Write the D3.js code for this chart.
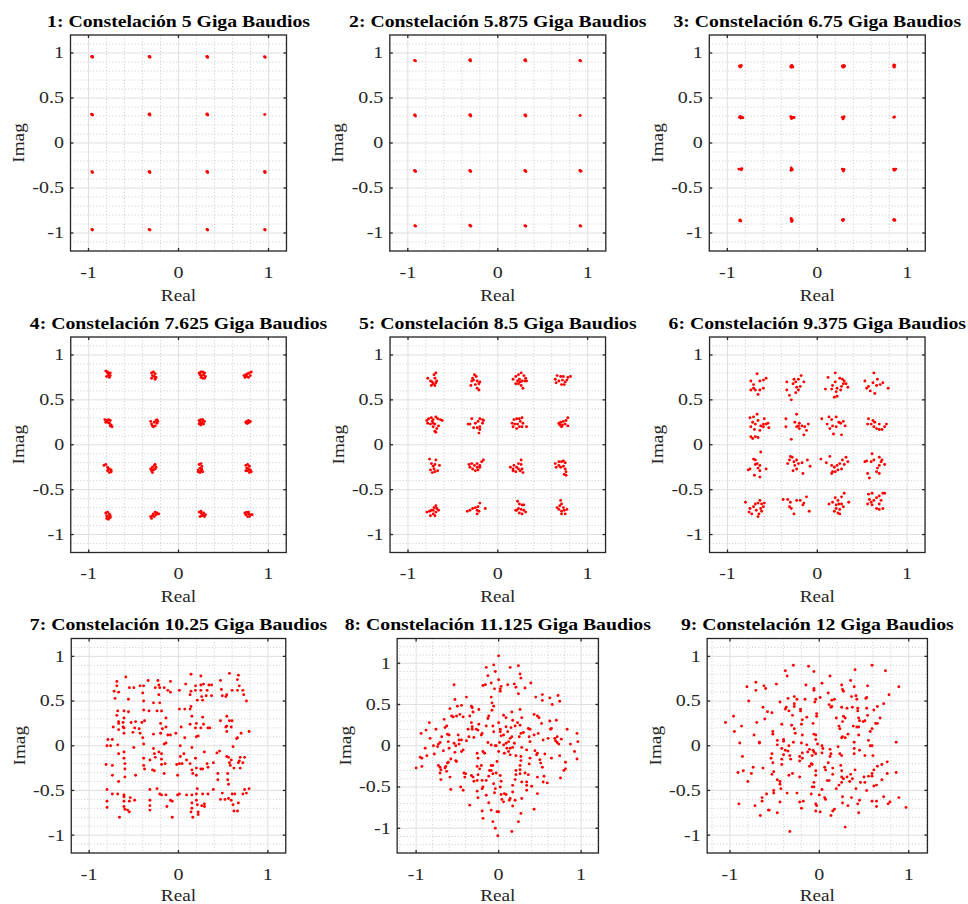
<!DOCTYPE html>
<html>
<head>
<meta charset="utf-8">
<script src="https://cdn.jsdelivr.net/npm/d3@7"></script>
<style>
  body { margin: 0; background: #fff; }
  text { font-family: "Liberation Serif", "Times New Roman", serif; }
</style>
</head>
<body>
<svg id="fig" width="968" height="904"></svg>
<script>
// ---- data ----
const titles = [
  "1: Constelación 5 Giga Baudios",
  "2: Constelación 5.875 Giga Baudios",
  "3: Constelación 6.75 Giga Baudios",
  "4: Constelación 7.625 Giga Baudios",
  "5: Constelación 8.5 Giga Baudios",
  "6: Constelación 9.375 Giga Baudios",
  "7: Constelación 10.25 Giga Baudios",
  "8: Constelación 11.125 Giga Baudios",
  "9: Constelación 12 Giga Baudios"
];
const xLabel = "Real";
const yLabel = "Imag";
const xTicks = [-1, 0, 1];
const yTicks = [-1, -0.5, 0, 0.5, 1];
const xLims = [[-1.2,1.2],[-1.2,1.2],[-1.2,1.2],[-1.2,1.2],[-1.2,1.2],[-1.2,1.2],[-1.2,1.2],[-1.23,1.21],[-1.255,1.21]];
const yLims = [[-1.2,1.2],[-1.2,1.2],[-1.2,1.2],[-1.2,1.2],[-1.2,1.2],[-1.2,1.2],[-1.2,1.2],[-1.3,1.3],[-1.2,1.2]];

const pts1 = [
[-0.965,0.96],[-0.955,0.952],[-0.958,0.962],[-0.327,0.96],[-0.317,0.952],[-0.322,0.962],[0.314,0.96],[0.324,0.951],[0.32,0.962],[0.955,0.96],[0.963,0.952],
[-0.965,0.32],[-0.955,0.31],[-0.96,0.318],[-0.327,0.32],[-0.317,0.31],[-0.32,0.322],[0.315,0.32],[0.325,0.31],[0.32,0.322],[0.958,0.316],
[-0.963,-0.318],[-0.955,-0.327],[-0.327,-0.318],[-0.317,-0.327],[-0.322,-0.32],[0.315,-0.318],[0.325,-0.327],[0.32,-0.32],[0.955,-0.318],[0.963,-0.327],[0.96,-0.32],
[-0.962,-0.96],[-0.955,-0.966],[-0.327,-0.96],[-0.317,-0.966],[0.317,-0.96],[0.324,-0.966],[0.957,-0.96],[0.963,-0.966]
];
const pts2 = [
[-0.925,0.918],[-0.915,0.912],[-0.312,0.92],[-0.302,0.912],[-0.306,0.925],[0.30,0.92],[0.312,0.912],[0.306,0.925],[0.912,0.918],[0.92,0.912],
[-0.925,0.31],[-0.915,0.30],[-0.92,0.312],[-0.312,0.31],[-0.30,0.30],[-0.306,0.314],[0.30,0.31],[0.312,0.30],[0.306,0.312],[0.915,0.305],
[-0.925,-0.306],[-0.913,-0.316],[-0.92,-0.31],[-0.312,-0.306],[-0.30,-0.316],[-0.306,-0.31],[0.30,-0.306],[0.312,-0.316],[0.306,-0.31],[0.912,-0.305],[0.924,-0.314],[0.918,-0.31],
[-0.922,-0.918],[-0.914,-0.924],[-0.31,-0.914],[-0.30,-0.924],[-0.306,-0.92],[0.302,-0.918],[0.31,-0.924],[0.914,-0.918],[0.92,-0.924]
];
const pts3 = [
[-0.865,0.855],[-0.85,0.85],[-0.845,0.862],[-0.858,0.845],[-0.295,0.85],[-0.28,0.855],[-0.272,0.845],[-0.285,0.862],[-0.29,0.842],
[0.278,0.855],[0.29,0.848],[0.297,0.862],[0.285,0.843],[0.302,0.852],[0.848,0.855],[0.855,0.843],[0.86,0.862],[0.852,0.868],
[-0.865,0.285],[-0.85,0.278],[-0.84,0.283],[-0.855,0.295],[-0.828,0.28],[-0.295,0.292],[-0.28,0.278],[-0.268,0.285],[-0.287,0.272],[-0.258,0.283],
[0.278,0.285],[0.292,0.278],[0.285,0.268],[0.297,0.292],[0.85,0.285],[0.857,0.29],
[-0.872,-0.29],[-0.855,-0.29],[-0.845,-0.298],[-0.838,-0.285],[-0.29,-0.278],[-0.283,-0.29],[-0.292,-0.302],[-0.278,-0.298],
[0.278,-0.29],[0.287,-0.30],[0.29,-0.312],[0.297,-0.295],[0.848,-0.29],[0.86,-0.298],[0.872,-0.29],[0.855,-0.302],
[-0.858,-0.855],[-0.85,-0.867],[-0.862,-0.862],[-0.29,-0.85],[-0.278,-0.86],[-0.285,-0.872],[-0.29,-0.838],
[0.278,-0.855],[0.292,-0.85],[0.285,-0.862],[0.848,-0.855],[0.862,-0.86],[0.855,-0.85]
];
const pts4 = [
[-0.81,0.82],[-0.79,0.80],[-0.78,0.78],[-0.76,0.80],[-0.80,0.76],[-0.77,0.75],[-0.76,0.77],[-0.79,0.81],
[-0.30,0.80],[-0.28,0.81],[-0.26,0.79],[-0.29,0.77],[-0.27,0.76],[-0.25,0.75],[-0.30,0.74],[-0.26,0.73],
[0.23,0.80],[0.25,0.81],[0.27,0.81],[0.29,0.80],[0.24,0.78],[0.26,0.77],[0.28,0.78],[0.30,0.76],[0.25,0.75],[0.27,0.74],[0.29,0.74],
[0.73,0.77],[0.75,0.78],[0.77,0.79],[0.79,0.80],[0.81,0.81],[0.74,0.75],[0.76,0.76],[0.78,0.75],[0.80,0.77],
[-0.82,0.28],[-0.80,0.27],[-0.78,0.28],[-0.76,0.27],[-0.81,0.25],[-0.79,0.25],[-0.77,0.24],[-0.75,0.22],[-0.74,0.20],[-0.76,0.21],
[-0.31,0.26],[-0.30,0.23],[-0.29,0.21],[-0.27,0.25],[-0.25,0.27],[-0.24,0.28],[-0.26,0.21],[-0.24,0.24],[-0.28,0.20],[-0.23,0.26],
[0.23,0.27],[0.25,0.28],[0.27,0.28],[0.29,0.26],[0.24,0.25],[0.26,0.24],[0.28,0.23],[0.23,0.23],[0.25,0.22],[0.27,0.26],
[0.75,0.25],[0.76,0.26],[0.78,0.27],[0.80,0.26],[0.77,0.24],[0.79,0.25],[0.76,0.24],
[-0.83,-0.23],[-0.81,-0.22],[-0.79,-0.25],[-0.77,-0.27],[-0.75,-0.28],[-0.79,-0.29],[-0.77,-0.31],[-0.75,-0.30],[-0.78,-0.27],
[-0.31,-0.27],[-0.29,-0.25],[-0.27,-0.23],[-0.26,-0.22],[-0.30,-0.29],[-0.28,-0.28],[-0.26,-0.27],[-0.29,-0.31],[-0.25,-0.25],
[0.23,-0.22],[0.25,-0.21],[0.26,-0.24],[0.24,-0.26],[0.22,-0.28],[0.25,-0.29],[0.27,-0.30],[0.24,-0.31],[0.22,-0.30],[0.26,-0.27],
[0.75,-0.23],[0.77,-0.22],[0.79,-0.24],[0.76,-0.26],[0.78,-0.27],[0.80,-0.28],[0.77,-0.29],[0.79,-0.31],[0.81,-0.30],[0.75,-0.29],
[-0.81,-0.76],[-0.79,-0.75],[-0.77,-0.77],[-0.80,-0.79],[-0.78,-0.80],[-0.76,-0.79],[-0.80,-0.82],[-0.78,-0.83],[-0.76,-0.81],
[-0.30,-0.82],[-0.29,-0.79],[-0.28,-0.77],[-0.26,-0.75],[-0.24,-0.76],[-0.22,-0.77],[-0.27,-0.80],[-0.25,-0.78],[-0.31,-0.80],
[0.23,-0.75],[0.25,-0.76],[0.27,-0.78],[0.29,-0.80],[0.24,-0.80],[0.26,-0.79],[0.28,-0.76],[0.30,-0.78],[0.25,-0.74],
[0.74,-0.76],[0.76,-0.75],[0.78,-0.77],[0.80,-0.78],[0.82,-0.78],[0.75,-0.78],[0.77,-0.80],[0.79,-0.80],[0.78,-0.75]
];
const pts5 = [
[-0.78,0.74],[-0.75,0.71],[-0.73,0.70],[-0.71,0.78],[-0.69,0.80],[-0.70,0.74],[-0.72,0.68],[-0.68,0.71],[-0.70,0.66],[-0.74,0.66],[-0.69,0.69],
[-0.26,0.78],[-0.24,0.76],[-0.27,0.72],[-0.29,0.71],[-0.23,0.71],[-0.21,0.68],[-0.30,0.66],[-0.25,0.67],[-0.23,0.63],[-0.21,0.61],[-0.28,0.74],[-0.20,0.70],
[0.17,0.73],[0.20,0.76],[0.23,0.78],[0.26,0.80],[0.29,0.77],[0.31,0.74],[0.22,0.71],[0.24,0.73],[0.27,0.71],[0.30,0.71],[0.20,0.68],[0.23,0.68],[0.26,0.66],[0.28,0.63],[0.25,0.70],[0.32,0.71],
[0.64,0.73],[0.66,0.77],[0.70,0.76],[0.73,0.76],[0.78,0.75],[0.81,0.76],[0.68,0.71],[0.72,0.72],[0.75,0.70],[0.71,0.67],[0.74,0.67],[0.65,0.69],[0.77,0.72],
[-0.79,0.27],[-0.77,0.29],[-0.74,0.30],[-0.72,0.28],[-0.69,0.31],[-0.67,0.29],[-0.64,0.28],[-0.62,0.27],[-0.78,0.24],[-0.75,0.23],[-0.72,0.24],[-0.70,0.23],[-0.72,0.20],[-0.68,0.18],[-0.70,0.15],[-0.69,0.14],[-0.66,0.21],[-0.73,0.26],
[-0.29,0.29],[-0.33,0.23],[-0.31,0.23],[-0.25,0.24],[-0.22,0.26],[-0.20,0.29],[-0.17,0.28],[-0.17,0.24],[-0.20,0.20],[-0.23,0.19],[-0.20,0.17],[-0.21,0.13],[-0.27,0.19],[-0.16,0.27],
[0.16,0.24],[0.18,0.28],[0.21,0.29],[0.24,0.29],[0.27,0.30],[0.25,0.26],[0.22,0.23],[0.19,0.23],[0.17,0.20],[0.24,0.20],[0.27,0.20],[0.32,0.20],[0.21,0.18],[0.28,0.24],
[0.68,0.24],[0.70,0.25],[0.73,0.26],[0.76,0.27],[0.78,0.30],[0.69,0.22],[0.72,0.22],[0.75,0.23],[0.78,0.21],[0.71,0.20],
[-0.76,-0.16],[-0.74,-0.21],[-0.72,-0.24],[-0.71,-0.27],[-0.75,-0.28],[-0.70,-0.30],[-0.67,-0.29],[-0.65,-0.23],[-0.69,-0.17],[-0.73,-0.31],[-0.70,-0.22],
[-0.32,-0.22],[-0.29,-0.21],[-0.26,-0.23],[-0.23,-0.25],[-0.20,-0.23],[-0.18,-0.19],[-0.16,-0.17],[-0.31,-0.25],[-0.28,-0.27],[-0.25,-0.29],[-0.22,-0.28],[-0.20,-0.25],[-0.23,-0.21],
[0.14,-0.25],[0.17,-0.27],[0.18,-0.23],[0.21,-0.25],[0.23,-0.21],[0.26,-0.17],[0.26,-0.22],[0.27,-0.27],[0.25,-0.29],[0.20,-0.30],[0.28,-0.31],[0.17,-0.29],[0.23,-0.27],
[0.64,-0.21],[0.68,-0.19],[0.71,-0.19],[0.73,-0.18],[0.75,-0.20],[0.65,-0.25],[0.70,-0.25],[0.73,-0.24],[0.75,-0.27],[0.76,-0.30],[0.74,-0.33],[0.76,-0.34],[0.68,-0.23],
[-0.79,-0.75],[-0.76,-0.74],[-0.74,-0.73],[-0.71,-0.70],[-0.69,-0.68],[-0.68,-0.71],[-0.72,-0.77],[-0.75,-0.79],[-0.69,-0.75],[-0.66,-0.73],[-0.70,-0.79],[-0.72,-0.73],
[-0.34,-0.74],[-0.31,-0.73],[-0.28,-0.71],[-0.25,-0.70],[-0.22,-0.69],[-0.20,-0.65],[-0.21,-0.74],[-0.23,-0.77],[-0.14,-0.71],[-0.23,-0.73],
[0.22,-0.63],[0.24,-0.66],[0.27,-0.67],[0.29,-0.67],[0.20,-0.73],[0.23,-0.71],[0.26,-0.72],[0.29,-0.73],[0.31,-0.75],[0.27,-0.77],[0.24,-0.76],[0.21,-0.73],
[0.70,-0.62],[0.71,-0.66],[0.69,-0.68],[0.66,-0.70],[0.68,-0.72],[0.71,-0.74],[0.74,-0.73],[0.77,-0.72],[0.75,-0.77],[0.71,-0.77],[0.73,-0.70]
];
const pts6 = [
[-0.74,0.71],[-0.67,0.79],[-0.64,0.71],[-0.60,0.72],[-0.57,0.74],[-0.71,0.63],[-0.74,0.61],[-0.69,0.61],[-0.66,0.56],[-0.60,0.63],[-0.71,0.67],[-0.64,0.61],
[-0.34,0.70],[-0.26,0.73],[-0.24,0.70],[-0.21,0.73],[-0.18,0.77],[-0.15,0.70],[-0.19,0.65],[-0.21,0.61],[-0.24,0.58],[-0.34,0.61],[-0.31,0.55],[-0.29,0.50],[-0.23,0.64],[-0.27,0.68],
[0.12,0.75],[0.20,0.80],[0.25,0.74],[0.28,0.73],[0.30,0.71],[0.32,0.68],[0.20,0.70],[0.17,0.66],[0.09,0.62],[0.16,0.62],[0.22,0.63],[0.27,0.65],[0.34,0.64],[0.21,0.59],[0.19,0.53],[0.22,0.54],[0.26,0.61],[0.29,0.68],
[0.53,0.71],[0.63,0.80],[0.67,0.73],[0.73,0.69],[0.79,0.63],[0.55,0.63],[0.59,0.60],[0.64,0.57],[0.66,0.66],[0.70,0.67],[0.62,0.69],[0.57,0.65],
[-0.75,0.30],[-0.71,0.31],[-0.67,0.34],[-0.72,0.25],[-0.69,0.23],[-0.66,0.27],[-0.63,0.21],[-0.60,0.23],[-0.59,0.29],[-0.57,0.23],[-0.54,0.19],[-0.74,0.09],[-0.72,0.07],[-0.69,0.09],[-0.66,0.08],[-0.74,0.20],[-0.70,0.17],[-0.64,0.16],[-0.60,0.20],[-0.55,0.24],
[-0.35,0.29],[-0.23,0.34],[-0.25,0.25],[-0.21,0.21],[-0.20,0.24],[-0.17,0.21],[-0.14,0.20],[-0.10,0.23],[-0.12,0.16],[-0.15,0.11],[-0.35,0.20],[-0.29,0.06],[-0.20,0.18],[-0.23,0.20],
[0.05,0.29],[0.13,0.31],[0.16,0.28],[0.21,0.31],[0.24,0.25],[0.26,0.24],[0.29,0.26],[0.31,0.21],[0.21,0.20],[0.17,0.21],[0.14,0.18],[0.18,0.12],[0.27,0.11],[0.11,0.23],
[0.57,0.29],[0.62,0.27],[0.64,0.25],[0.56,0.23],[0.60,0.23],[0.63,0.20],[0.66,0.18],[0.69,0.17],[0.72,0.17],[0.75,0.20],[0.77,0.23],[0.69,0.23],
[-0.63,-0.08],[-0.71,-0.16],[-0.69,-0.17],[-0.67,-0.21],[-0.64,-0.23],[-0.77,-0.28],[-0.75,-0.27],[-0.66,-0.26],[-0.64,-0.29],[-0.70,-0.34],[-0.64,-0.36],[-0.57,-0.27],[-0.69,-0.22],
[-0.30,-0.13],[-0.28,-0.14],[-0.31,-0.17],[-0.26,-0.19],[-0.23,-0.17],[-0.33,-0.21],[-0.25,-0.23],[-0.23,-0.27],[-0.27,-0.29],[-0.17,-0.20],[-0.16,-0.32],[-0.11,-0.17],[-0.08,-0.24],[-0.21,-0.21],
[0.04,-0.16],[0.14,-0.13],[0.10,-0.20],[0.16,-0.23],[0.19,-0.25],[0.22,-0.23],[0.25,-0.21],[0.28,-0.17],[0.32,-0.14],[0.34,-0.19],[0.17,-0.30],[0.16,-0.32],[0.20,-0.30],[0.23,-0.28],[0.27,-0.27],[0.30,-0.22],
[0.61,-0.10],[0.53,-0.19],[0.55,-0.18],[0.60,-0.19],[0.63,-0.17],[0.69,-0.14],[0.72,-0.17],[0.75,-0.22],[0.69,-0.23],[0.67,-0.26],[0.66,-0.30],[0.69,-0.32],[0.56,-0.32],[0.58,-0.37],[0.71,-0.19],
[-0.80,-0.64],[-0.75,-0.71],[-0.76,-0.75],[-0.71,-0.69],[-0.69,-0.66],[-0.66,-0.65],[-0.64,-0.62],[-0.62,-0.66],[-0.60,-0.69],[-0.63,-0.71],[-0.59,-0.65],[-0.65,-0.77],[-0.68,-0.73],[-0.62,-0.74],[-0.73,-0.77],[-0.66,-0.80],
[-0.38,-0.61],[-0.33,-0.61],[-0.30,-0.64],[-0.31,-0.69],[-0.26,-0.77],[-0.23,-0.62],[-0.19,-0.62],[-0.15,-0.65],[-0.12,-0.58],[-0.16,-0.67],[-0.09,-0.74],[-0.29,-0.71],
[0.13,-0.66],[0.17,-0.64],[0.20,-0.59],[0.23,-0.62],[0.27,-0.58],[0.30,-0.54],[0.35,-0.64],[0.21,-0.67],[0.24,-0.66],[0.27,-0.66],[0.21,-0.71],[0.25,-0.72],[0.23,-0.76],[0.25,-0.77],[0.19,-0.74],[0.29,-0.69],
[0.57,-0.55],[0.61,-0.54],[0.58,-0.61],[0.60,-0.64],[0.63,-0.62],[0.66,-0.59],[0.69,-0.57],[0.73,-0.54],[0.75,-0.54],[0.71,-0.62],[0.69,-0.66],[0.66,-0.71],[0.61,-0.67],[0.73,-0.71],[0.69,-0.72],[0.56,-0.66]
];
const pts7 = [
[-0.59,0.77],[-0.69,0.72],[-0.69,0.67],[-0.72,0.61],[-0.67,0.60],[-0.71,0.53],[-0.55,0.65],[-0.56,0.52],[-0.50,0.65],[-0.43,0.67],[-0.39,0.67],[-0.40,0.59],[-0.39,0.50],[-0.34,0.73],[-0.23,0.73],[-0.22,0.68],[-0.21,0.65],[-0.26,0.65],[-0.16,0.65],[-0.12,0.62],[-0.09,0.72],[-0.09,0.60],[-0.22,0.57],[-0.28,0.48],[-0.21,0.48],
[0.14,0.80],[0.08,0.69],[0.01,0.62],[0.14,0.61],[0.19,0.67],[0.25,0.78],[0.25,0.68],[0.28,0.69],[0.34,0.68],[0.37,0.68],[0.19,0.62],[0.25,0.62],[0.32,0.62],[0.26,0.55],[0.21,0.51],[0.27,0.51],[0.31,0.56],[0.37,0.56],[0.47,0.73],[0.57,0.81],[0.67,0.79],[0.66,0.74],[0.48,0.63],[0.53,0.55],[0.54,0.57],[0.60,0.62],[0.66,0.62],[0.72,0.62],[0.76,0.50],[0.49,0.56],[0.13,0.57],[0.68,0.67],[0.73,0.57],
[-0.68,0.39],[-0.61,0.39],[-0.56,0.38],[-0.39,0.40],[-0.33,0.39],[-0.69,0.34],[-0.61,0.31],[-0.67,0.27],[-0.62,0.26],[-0.53,0.26],[-0.48,0.27],[-0.38,0.28],[-0.73,0.21],[-0.62,0.21],[-0.61,0.20],[-0.67,0.18],[-0.67,0.25],[-0.49,0.20],[-0.51,0.15],[-0.44,0.19],[-0.41,0.26],[-0.61,0.14],[-0.43,0.14],[-0.40,0.09],[-0.28,0.13],[-0.18,0.19],[-0.20,0.25],[-0.14,0.21],[-0.24,0.39],[-0.19,0.39],[-0.14,0.31],[-0.20,0.14],[-0.12,0.12],[-0.09,0.12],[-0.16,0.02],[-0.03,0.14],
[0.03,0.21],[0.07,0.09],[0.01,0.41],[0.07,0.41],[0.14,0.44],[0.13,0.41],[0.15,0.33],[0.13,0.24],[0.20,0.25],[0.19,0.20],[0.25,0.20],[0.27,0.32],[0.28,0.24],[0.33,0.20],[0.35,0.20],[0.20,0.10],[0.22,0.11],[0.47,0.28],[0.54,0.33],[0.57,0.28],[0.60,0.28],[0.54,0.22],[0.53,0.21],[0.59,0.21],[0.54,0.16],[0.66,0.09],[0.65,0.08],[0.70,0.14],[0.79,0.16],
[-0.80,0.00],[-0.76,0.00],[-0.79,0.07],[-0.74,0.07],[-0.68,0.01],[-0.50,-0.02],[-0.39,0.02],[-0.14,0.03],[0.02,0.00],[0.15,-0.02],[0.61,-0.01],
[-0.81,-0.21],[-0.74,-0.22],[-0.67,-0.09],[-0.61,-0.07],[-0.61,-0.14],[-0.60,-0.20],[-0.60,-0.26],[-0.60,-0.35],[-0.74,-0.33],[-0.67,-0.40],[-0.48,-0.33],[-0.39,-0.14],[-0.39,-0.22],[-0.38,-0.26],[-0.28,-0.03],[-0.27,-0.09],[-0.26,-0.13],[-0.29,-0.27],[-0.27,-0.28],[-0.22,-0.07],[-0.19,-0.09],[-0.19,-0.15],[-0.19,-0.21],[-0.15,-0.20],[-0.32,-0.16],[-0.16,-0.31],
[-0.02,-0.21],[-0.01,-0.33],[0.01,-0.20],[0.04,-0.20],[0.02,-0.12],[0.06,-0.09],[0.09,-0.16],[0.13,-0.20],[0.15,-0.27],[0.16,-0.31],[0.19,-0.14],[0.20,-0.25],[0.20,-0.33],[0.25,-0.26],[0.27,-0.26],[0.32,-0.20],[0.33,-0.24],[0.39,-0.19],[0.43,-0.08],[0.46,-0.06],[0.44,-0.31],[0.44,-0.38],[0.54,-0.12],[0.56,-0.13],[0.55,-0.31],[0.55,-0.38],[0.56,-0.43],[0.58,-0.22],[0.57,-0.19],[0.59,-0.16],[0.62,-0.25],[0.67,-0.19],[0.68,-0.17],[0.69,-0.25],[0.72,-0.19],[0.74,-0.13],[0.69,-0.13],[0.29,-0.07],
[-0.80,-0.49],[-0.80,-0.62],[-0.80,-0.69],[-0.74,-0.54],[-0.68,-0.54],[-0.61,-0.55],[-0.61,-0.57],[-0.61,-0.62],[-0.61,-0.68],[-0.60,-0.71],[-0.57,-0.72],[-0.54,-0.58],[-0.55,-0.62],[-0.55,-0.74],[-0.49,-0.61],[-0.66,-0.80],
[-0.32,-0.49],[-0.32,-0.61],[-0.32,-0.72],[-0.24,-0.48],[-0.21,-0.54],[-0.19,-0.55],[-0.14,-0.55],[-0.09,-0.61],[-0.07,-0.62],[-0.13,-0.68],[-0.07,-0.80],[-0.01,-0.55],[0.01,-0.54],[0.09,-0.55],[0.15,-0.55],[0.20,-0.54],[0.21,-0.48],[0.20,-0.61],[0.21,-0.66],[0.22,-0.74],[0.22,-0.77],[0.15,-0.64],[0.14,-0.74],[0.16,-0.80],[0.15,-0.70],
[0.27,-0.54],[0.33,-0.54],[0.26,-0.67],[0.29,-0.65],[0.39,-0.49],[0.49,-0.53],[0.47,-0.60],[0.52,-0.60],[0.56,-0.59],[0.60,-0.54],[0.63,-0.54],[0.61,-0.66],[0.59,-0.61],[0.62,-0.73],[0.66,-0.73],[0.67,-0.64],[0.72,-0.54],[0.76,-0.53],[0.74,-0.49],[0.79,-0.48],[0.29,-0.68],[-0.32,-0.67]
];
const pts8 = [
[0.00,1.09],[-0.06,0.98],[-0.15,0.95],[0.14,0.95],[0.24,0.97],[-0.04,0.90],[-0.13,0.85],[0.26,0.87],[0.27,0.82],[0.00,0.80],[-0.09,0.76],[-0.16,0.74],[-0.19,0.73],[0.03,0.72],[0.02,0.69],[0.02,0.66],[-0.05,0.69],[0.11,0.74],[0.19,0.75],[0.21,0.71],[0.39,0.76],[-0.54,0.74],[0.32,0.70],[0.24,0.63],
[0.45,0.59],[0.53,0.62],[0.62,0.58],[0.72,0.61],[0.74,0.54],[0.53,0.55],[0.65,0.50],[-0.39,0.59],[-0.53,0.56],[-0.50,0.48],[-0.45,0.49],[-0.33,0.48],[-0.32,0.46],[-0.59,0.45],[-0.24,0.44],[-0.09,0.59],[-0.08,0.52],[-0.06,0.48],[-0.08,0.43],[0.26,0.44],[0.28,0.34],[0.16,0.41],[0.06,0.37],[0.09,0.34],[0.00,0.28],[-0.12,0.36],[-0.13,0.33],
[-0.57,0.36],[-0.55,0.35],[-0.51,0.36],[-0.47,0.38],[-0.43,0.35],[-0.35,0.36],[-0.31,0.41],[-0.33,0.28],[-0.37,0.20],[-0.27,0.20],[-0.25,0.19],[-0.84,0.28],[-0.88,0.19],[-0.94,0.15],[-0.83,0.09],[-0.76,0.20],[-0.66,0.32],[-0.63,0.24],[-0.65,0.22],[-0.62,0.14],[-0.60,0.13],[-0.69,0.11],
[-0.74,-0.01],[-0.79,0.00],[-0.89,-0.03],[-0.95,-0.14],[-0.93,-0.15],[-0.87,-0.12],[-0.78,-0.10],[-0.93,-0.25],[-1.00,-0.27],[-0.73,0.02],[-0.71,0.04],[-0.67,-0.06],[-0.61,0.05],[-0.60,-0.03],[-0.54,0.03],[-0.53,-0.08],[-0.49,0.13],[-0.48,0.07],[-0.52,0.00],[-0.48,0.02],[-0.43,-0.05],[-0.45,0.07],[-0.36,0.11],[-0.30,0.10],[-0.39,0.06],[-0.32,0.23],[-0.32,0.20],
[-0.21,0.13],[-0.15,0.24],[-0.07,0.24],[-0.06,0.17],[-0.13,0.04],[-0.09,0.01],[-0.04,0.00],[-0.03,0.00],[0.02,0.17],[0.03,0.12],[0.06,0.13],[0.02,0.20],[0.09,0.23],[0.11,0.17],[0.15,0.22],[0.20,0.24],[0.23,0.28],[0.26,0.25],[0.17,0.31],[0.16,0.11],[0.12,0.05],[0.19,0.03],[0.06,0.01],[0.10,-0.03],[0.14,-0.03],[0.17,-0.02],[0.28,-0.02],[0.25,0.11],[0.30,0.16],[0.36,0.21],[0.38,0.20],[0.37,0.11],[0.43,0.13],
[0.43,0.38],[0.47,0.36],[0.49,0.34],[0.52,0.27],[0.62,0.30],[0.70,0.31],[0.64,0.21],[0.63,0.20],[0.60,0.09],[0.68,0.09],[0.69,0.06],[0.71,0.11],[0.71,0.04],[0.73,0.02],[0.76,0.08],[0.83,0.20],[0.87,0.02],[0.95,0.15],[0.96,0.05],[0.92,-0.07],[0.95,-0.16],
[0.74,-0.12],[0.81,-0.20],[0.81,-0.28],[0.79,-0.30],[0.75,-0.39],[0.64,-0.15],[0.56,-0.10],[0.46,-0.11],[0.47,-0.09],[0.50,-0.17],[0.51,-0.21],[0.53,-0.26],[0.55,-0.37],[0.59,-0.45],[0.54,-0.44],[0.47,-0.38],[0.47,-0.58],[0.43,-0.77],[0.37,-0.22],[0.36,-0.35],[0.34,-0.44],[0.34,-0.48],[0.40,-0.49],[0.34,-0.54],
[0.27,-0.13],[0.27,-0.18],[0.26,-0.24],[0.26,-0.29],[0.26,-0.34],[0.28,-0.44],[0.28,-0.64],[0.27,-0.82],[0.24,-0.92],[0.21,-0.30],[0.21,-0.35],[0.20,-0.41],[0.20,-0.66],[0.17,-0.48],[0.17,-0.56],[0.14,-0.64],[0.13,-0.66],[0.17,-0.73],[0.06,-0.68],[0.04,-0.65],[0.03,-0.59],[0.02,-0.50],[0.03,-0.43],[0.02,-0.36],[0.09,-0.59],[0.07,-0.58],
[-0.03,-0.33],[-0.02,-0.19],[0.07,-0.09],[0.12,-0.07],[0.14,-0.11],[-0.09,-0.24],[-0.11,-0.30],[-0.09,-0.30],[-0.07,-0.34],[-0.12,-0.37],[-0.21,-0.24],[-0.23,-0.28],[-0.25,-0.35],[-0.20,-0.42],[-0.20,-0.52],[-0.19,-0.50],[-0.26,-0.55],[-0.25,-0.63],[-0.15,-0.60],[-0.12,-0.69],[-0.06,-0.46],[-0.05,-0.57],[-0.04,-0.52],
[-0.02,-0.80],[0.00,-0.80],[-0.09,-0.78],[-0.20,-0.79],[-0.19,-0.88],[-0.07,-0.92],[-0.04,-1.00],[-0.01,-1.09],[0.16,-1.04],[-0.35,-0.72],[-0.26,-0.42],[-0.15,-0.42],[-0.17,-0.09],[-0.07,-0.24],
[-0.40,-0.34],[-0.42,-0.33],[-0.41,-0.38],[-0.33,-0.36],[-0.31,-0.38],[-0.25,-0.15],[-0.26,-0.25],[-0.30,-0.43],[-0.46,-0.50],[-0.43,-0.54],[-0.58,-0.53],[-0.52,-0.18],[-0.51,-0.19],[-0.58,-0.16],[-0.59,-0.38],[-0.63,-0.31],[-0.65,-0.27],[-0.64,-0.25],[-0.62,-0.21],[-0.61,-0.20],[-0.70,-0.29],[-0.70,-0.41],[-0.73,-0.24],[-0.71,-0.26],[-0.71,-0.33],
[-0.45,-0.07],[-0.26,-0.09],[-0.19,-0.07],[-0.24,0.26],[-0.20,0.15],[0.01,0.04],[0.14,0.09],[0.21,-0.12],[0.34,-0.05],[0.38,0.05],[0.48,0.15],[0.54,0.07],[0.44,-0.06],[0.38,-0.15],[0.32,-0.33],[0.27,0.15],[0.09,0.03],[0.00,-0.07]
];
const pts9 = [
[-0.29,0.90],[-0.12,0.89],[-0.06,0.83],[-0.38,0.84],[-0.36,0.78],[0.12,0.78],[0.59,0.90],[0.40,0.85],[0.74,0.84],[0.35,0.73],[0.89,0.66],[0.78,0.57],[0.72,0.47],[0.65,0.44],[0.61,0.40],[0.68,0.31],[0.65,0.25],[0.63,0.25],[0.59,0.19],[0.57,0.16],[0.55,0.06],[0.57,0.00],[0.59,0.00],[0.86,0.04],
[0.54,0.67],[0.54,0.34],[0.51,0.28],[0.45,0.28],[0.49,0.27],[0.53,0.42],[0.52,0.53],[0.53,0.54],[0.42,0.52],[0.36,0.55],[0.39,0.66],[0.25,0.68],[0.26,0.63],[0.27,0.61],[0.41,0.56],[0.43,0.42],[0.43,0.39],[0.37,0.43],[0.31,0.42],[0.25,0.43],[0.29,0.31],[0.27,0.33],[0.19,0.31],[0.26,0.27],[0.22,0.22],[0.23,0.19],[0.38,0.22],[0.42,0.21],[0.44,0.31],[0.44,0.21],[0.26,0.10],[0.29,0.09],[0.25,0.09],[0.32,0.13],
[0.11,0.46],[0.14,0.51],[0.17,0.52],[0.14,0.44],[0.10,0.59],[0.01,0.54],[-0.04,0.52],[-0.06,0.62],[-0.06,0.64],[0.03,0.70],[0.13,0.43],[-0.03,0.36],[-0.03,0.33],[-0.07,0.25],[-0.05,0.49],[-0.15,0.68],[-0.16,0.52],[-0.25,0.52],[-0.28,0.55],[-0.28,0.47],[-0.28,0.44],[-0.21,0.41],[-0.21,0.39],[-0.14,0.32],[-0.19,0.29],[-0.20,0.24],
[-0.35,0.53],[-0.37,0.43],[-0.38,0.41],[-0.34,0.39],[-0.30,0.34],[-0.28,0.19],[-0.31,0.23],[-0.44,0.49],[-0.48,0.69],[-0.53,0.37],[-0.58,0.38],[-0.63,0.43],[-0.61,0.30],[-0.60,0.64],[-0.62,0.67],[-0.71,0.71],[-0.71,0.62],[-0.81,0.66],[-0.79,0.50],[-0.96,0.33],[-1.05,0.26],[-0.95,0.16],[-0.87,0.22],[-0.89,0.03],[-0.73,0.12],[-0.70,0.26],[-0.67,0.04],[-0.67,0.03],
[-0.52,0.16],[-0.52,0.13],[-0.42,0.24],[-0.40,0.07],[-0.40,0.05],[-0.29,0.04],[-0.34,0.00],[-0.47,0.06],[-0.47,0.01],[-0.42,-0.03],[-0.38,-0.05],[-0.35,-0.06],[-0.27,0.14],[-0.19,0.12],[-0.20,0.03],[-0.14,0.01],[-0.11,-0.04],[-0.13,-0.07],[-0.06,0.13],[-0.04,0.12],[-0.04,0.07],[-0.02,0.02],[-0.07,-0.05],[-0.06,-0.07],[-0.04,-0.09],[-0.08,-0.11],[-0.09,-0.20],[-0.11,-0.23],[-0.08,-0.21],[-0.04,-0.28],[-0.04,-0.33],
[0.03,0.00],[0.04,-0.03],[0.12,-0.04],[0.13,-0.09],[0.12,-0.12],[0.10,-0.19],[0.03,-0.08],[0.21,-0.01],[0.23,-0.09],[0.25,-0.11],[0.24,-0.22],[0.39,-0.09],[0.45,-0.05],[0.51,-0.11],[0.60,-0.11],[0.65,-0.23],[0.70,-0.21],[0.76,-0.18],[0.76,-0.31],[0.86,-0.30],[0.70,-0.38],[0.64,-0.44],[0.61,-0.45],[0.59,-0.34],[0.59,-0.31],[0.61,-0.27],[0.55,-0.34],[0.50,-0.35],[0.51,-0.41],[0.46,-0.41],[0.53,-0.50],
[0.40,-0.27],[0.35,-0.32],[0.37,-0.37],[0.31,-0.35],[0.34,-0.40],[0.27,-0.37],[0.25,-0.35],[0.25,-0.41],[0.22,-0.44],[0.19,-0.48],[0.25,-0.28],[0.15,-0.25],[0.15,-0.32],[0.07,-0.27],[0.11,-0.39],[0.09,-0.39],[0.41,-0.48],[0.36,-0.58],[0.26,-0.57],[0.26,-0.64],[0.32,-0.67],[0.45,-0.61],[0.43,-0.65],[0.44,-0.75],[0.59,-0.62],[0.64,-0.62],[0.64,-0.68],[0.72,-0.57],[0.77,-0.65],[0.79,-0.63],[0.89,-0.58],[0.97,-0.69],[0.29,-0.91],
[0.17,-0.71],[0.13,-0.78],[0.15,-0.73],[0.01,-0.74],[-0.04,-0.65],[-0.03,-0.67],[-0.04,-0.73],[0.06,-0.58],[0.07,-0.60],[0.00,-0.55],[0.03,-0.49],[-0.08,-0.46],[-0.06,-0.46],[-0.09,-0.54],[-0.18,-0.62],[-0.22,-0.63],[-0.20,-0.70],[-0.22,-0.35],[-0.25,-0.53],[-0.22,-0.12],[-0.22,-0.17],[-0.19,-0.08],
[-0.33,-0.11],[-0.32,-0.15],[-0.34,-0.33],[-0.42,-0.21],[-0.42,-0.15],[-0.40,-0.10],[-0.44,-0.40],[-0.44,-0.43],[-0.43,-0.48],[-0.47,-0.38],[-0.51,-0.29],[-0.53,-0.32],[-0.52,-0.19],[-0.53,-0.09],[-0.51,-0.50],[-0.51,-0.53],[-0.36,-0.53],[-0.44,-0.63],[-0.47,-0.75],[-0.57,-0.72],[-0.56,-0.72],[-0.59,-0.54],[-0.64,-0.58],[-0.64,-0.62],[-0.66,-0.78],[-0.72,-0.67],
[-0.74,-0.24],[-0.76,-0.31],[-0.85,-0.28],[-0.91,-0.30],[-0.86,-0.12],[-0.80,-0.40],[-0.90,-0.65],[-0.63,-0.25],[-0.33,-0.96],[-0.30,-0.31],[0.06,-0.24],[-0.06,-0.41],[0.39,0.04],[0.44,0.12],[0.39,-0.03],[-0.19,-0.14],[-0.54,-0.14]
];
const panels = [pts1, pts2, pts3, pts4, pts5, pts6, pts7, pts8, pts9];

// ---- layout ----
const COL_CX = [178.5, 497.8, 817.3];
const ROW_TOP = [35, 337, 638.5];
const ROW_H = [216, 215.5, 214.5];
const XLABEL_GAP = [50, 49.5, 47.5];
const INK = "#262626";

const svg = d3.select("#fig");
svg.append("rect").attr("width", 968).attr("height", 904).attr("fill", "#fff");

// MATLAB's text renders wider than Liberation Serif, so stretch it horizontally
function label(g, x, y, str, size, sx, opts = {}) {
  const t = g.append("g")
    .attr("transform", `translate(${x},${y}) rotate(${opts.rot || 0}) scale(${sx},1)`);
  return t.append("text")
    .attr("text-anchor", opts.anchor || "middle")
    .attr("font-size", size)
    .attr("font-weight", opts.bold ? "bold" : null)
    .attr("fill", opts.fill || INK)
    .text(str);
}

function minorTicks(dom, step) {
  const lo = Math.ceil(dom[0] / step - 1e-6), hi = Math.floor(dom[1] / step + 1e-6);
  return d3.range(lo, hi + 1).map(k => +(k * step).toFixed(4));
}

panels.forEach((pts, i) => {
  const r = Math.floor(i / 3), c = i % 3;
  const xd = xLims[i], yd = yLims[i];
  const H = ROW_H[r], top = ROW_TOP[r];
  const ppu = H / (yd[1] - yd[0]);
  const W = (xd[1] - xd[0]) * ppu;
  const left = COL_CX[c] - W / 2;

  const x = d3.scaleLinear().domain(xd).range([left, left + W]);
  const y = d3.scaleLinear().domain(yd).range([top + H, top]);
  const g = svg.append("g").attr("class", "panel");

  // minor grid (dotted)
  const gm = g.append("g").attr("stroke", "#c6c6c6").attr("stroke-width", 0.9)
    .attr("stroke-dasharray", "1,2.2");
  gm.selectAll("line.vx").data(minorTicks(xd, 0.2).filter(v => !xTicks.includes(v)))
    .join("line").attr("x1", d => x(d)).attr("x2", d => x(d)).attr("y1", top).attr("y2", top + H);
  gm.selectAll("line.hy").data(minorTicks(yd, 0.1).filter(v => !yTicks.includes(v)))
    .join("line").attr("y1", d => y(d)).attr("y2", d => y(d)).attr("x1", left).attr("x2", left + W);

  // major grid
  const gg = g.append("g").attr("stroke", "#dfdfdf").attr("stroke-width", 1);
  gg.selectAll("line.gx").data(xTicks).join("line")
    .attr("x1", d => x(d)).attr("x2", d => x(d)).attr("y1", top).attr("y2", top + H);
  gg.selectAll("line.gy").data(yTicks).join("line")
    .attr("y1", d => y(d)).attr("y2", d => y(d)).attr("x1", left).attr("x2", left + W);

  // constellation points
  g.append("g").selectAll("circle").data(pts).join("circle")
    .attr("cx", d => x(d[0])).attr("cy", d => y(d[1])).attr("r", 1.45)
    .attr("fill", "#ff0000");

  // box + inward ticks on all sides
  g.append("rect").attr("x", left).attr("y", top).attr("width", W).attr("height", H)
    .attr("fill", "none").attr("stroke", INK).attr("stroke-width", 1.3);
  const tl = 3;
  const gt = g.append("g").attr("stroke", INK).attr("stroke-width", 1.3);
  xTicks.forEach(v => {
    gt.append("line").attr("x1", x(v)).attr("x2", x(v)).attr("y1", top + H).attr("y2", top + H - tl);
    gt.append("line").attr("x1", x(v)).attr("x2", x(v)).attr("y1", top).attr("y2", top + tl);
  });
  yTicks.forEach(v => {
    gt.append("line").attr("x1", left).attr("x2", left + tl).attr("y1", y(v)).attr("y2", y(v));
    gt.append("line").attr("x1", left + W).attr("x2", left + W - tl).attr("y1", y(v)).attr("y2", y(v));
  });

  // tick labels
  xTicks.forEach(v => label(g, x(v), top + H + 26.5, String(v), 16, 1.25));
  yTicks.forEach(v => label(g, left - 6.5, y(v) + 5.4, String(v), 16, 1.25, { anchor: "end" }));

  // axis labels and title
  label(g, left + W / 2, top + H + XLABEL_GAP[r], xLabel, 17.5, 1.1);
  label(g, left - 46.5, top + H / 2, yLabel, 17.5, 1.1, { rot: -90 });
  label(g, left + W / 2, top - 8.5, titles[i], 17, 1.16, { bold: true, fill: "#000" });
});
</script>
</body>
</html>
